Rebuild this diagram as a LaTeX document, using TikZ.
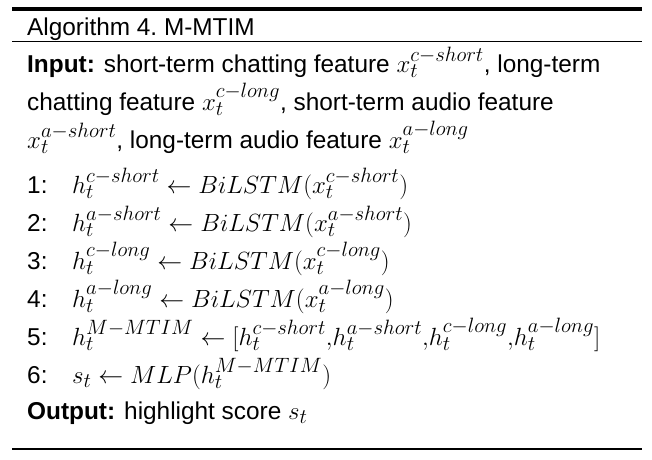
\documentclass[tikz,border=0pt]{standalone}
\usepackage{fontspec}
\setmainfont{Liberation Sans}[Scale=0.88]
\begin{document}
\begin{tikzpicture}[x=1pt,y=-1pt,font=\fontsize{27.7}{32}\selectfont,
  row/.style={anchor=base west,inner sep=0pt},
  rule/.style={line width=#1}]
\useasboundingbox (0,0) rectangle (652,459);
% rules
\draw[rule=4pt] (12,9) -- (642,9);
\draw[rule=1.3pt] (12,41.5) -- (642,41.5);
\draw[rule=1.3pt] (12,449) -- (642,449);
% heading
\node[row] (title) at (27,35) {Algorithm 4.\ M-MTIM};
% input
\node[row] (in1) at (27,72) {\textbf{Input:} short-term chatting feature $x_t^{c-short}$, long-term};
\node[row] (in2) at (27,110) {chatting feature $x_t^{c-long}$, short-term audio feature};
\node[row] (in3) at (27,148) {$x_t^{a-short}$, long-term audio feature $x_t^{a-long}$};
% steps
\foreach \n/\y in {1/193,2/231,3/269,4/307,5/345,6/383}
  \node[row] (n\n) at (27,\y) {\n:};
\node[row] (s1) at (72,193) {$h_t^{c-short} \leftarrow BiLSTM(x_t^{c-short})$};
\node[row] (s2) at (72,231) {$h_t^{a-short} \leftarrow BiLSTM(x_t^{a-short})$};
\node[row] (s3) at (72,269) {$h_t^{c-long} \leftarrow BiLSTM(x_t^{c-long})$};
\node[row] (s4) at (72,307) {$h_t^{a-long} \leftarrow BiLSTM(x_t^{a-long})$};
\node[row] (s5) at (72,345) {$h_t^{M-MTIM} \leftarrow [h_t^{c-short}{,}h_t^{a-short}{,}h_t^{c-long}{,}h_t^{a-long}]$};
\node[row] (s6) at (72,383) {$s_t \leftarrow MLP(h_t^{M-MTIM})$};
% output
\node[row] (out) at (27,419) {\textbf{Output:} highlight score $s_t$};
\end{tikzpicture}
\end{document}
